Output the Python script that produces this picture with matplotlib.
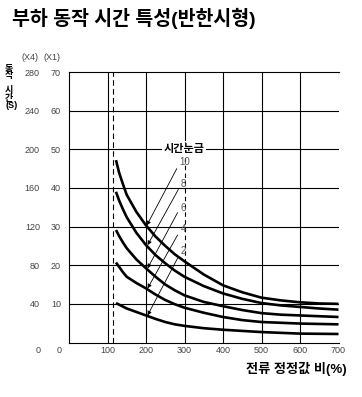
import numpy as np
import matplotlib
matplotlib.use("Agg")
import matplotlib.pyplot as plt

plt.rcParams['font.family'] = ['Liberation Sans', 'Noto Sans CJK KR', 'DejaVu Sans']

# 전류 정정값 비 (%)
ratio = [122, 130, 140, 150, 175, 200, 225, 250, 275, 300, 350, 400, 450, 500, 550, 600, 650, 700]
# 시간눈금별 동작 시간 (X1 눈금, s)
dial = [10, 8, 6, 4, 2]
t10 = [47.2, 44.0, 41.0, 38.2, 33.8, 30.3, 27.4, 25.0, 22.8, 21.0, 17.6, 14.8, 13.0, 11.6, 10.9, 10.4, 10.1, 10.0]
t8 = [39.0, 36.8, 34.5, 32.4, 28.4, 25.2, 22.6, 20.5, 18.6, 17.0, 14.6, 12.7, 11.3, 10.2, 9.6, 9.2, 8.8, 8.5]
t6 = [29.1, 27.6, 25.9, 24.4, 21.5, 19.2, 17.0, 15.0, 13.5, 12.2, 10.5, 9.4, 8.4, 7.6, 7.2, 7.0, 6.8, 6.6]
t4 = [20.7, 19.6, 18.2, 17.0, 15.4, 14.0, 12.4, 11.0, 9.9, 9.0, 7.7, 6.6, 5.8, 5.3, 5.1, 4.9, 4.8, 4.7]
t2 = [10.2, 9.8, 9.3, 8.8, 7.9, 7.0, 6.1, 5.3, 4.7, 4.3, 3.7, 3.3, 3.0, 2.7, 2.5, 2.3, 2.25, 2.2]
curves = [t10, t8, t6, t4, t2]

# 눈금 숫자 위치와 화살표 끝
label_x = [300, 297, 297, 297, 297]
label_y = [46.6, 41.0, 34.8, 29.4, 23.6]
arrow_from = [(280, 45.0), (284, 39.6), (282, 33.6), (282, 27.8), (282, 21.8)]
arrow_to = [(202, 30.3), (204, 25.2), (204, 19.2), (204, 14.0), (204, 7.0)]

yticks_x1 = [10, 20, 30, 40, 50, 60, 70]
xticks = [100, 200, 300, 400, 500, 600, 700]

fig = plt.figure(figsize=(3.62, 3.97), dpi=100)
ax = fig.add_axes([69 / 362, 54.5 / 397, 269.5 / 362, 270.5 / 397])
ax.set_xlim(0, 700)
ax.set_ylim(0, 70)

# 격자
for y in yticks_x1[:-1]:
    ax.axhline(y, color='black', lw=0.8, zorder=1)
for x in [100, 200, 400, 500, 600]:
    ax.axvline(x, color='black', lw=0.8, zorder=1)
ax.plot([300, 300], [0, 20.5], color='black', lw=0.8, zorder=1)
ax.plot([300, 300], [20.5, 52.5], color='black', lw=0.8, dashes=(4, 3), zorder=1)
ax.plot([300, 300], [52.5, 70], color='black', lw=0.8, zorder=1)
ax.plot([700, 700], [68.5, 70], color='black', lw=0.8, zorder=1)
ax.axvline(115, color='black', lw=0.8, dashes=(5, 3), zorder=1)

for c in curves:
    ax.plot(ratio, c, color='black', lw=1.9, solid_capstyle='butt',
            solid_joinstyle='round', zorder=3)

for d, lx, ly, a0, a1 in zip(dial, label_x, label_y, arrow_from, arrow_to):
    ax.text(lx, ly, str(d), ha='center', va='center', fontsize=7, color='#555555', zorder=4)
    ax.annotate('', xy=a1, xytext=a0,
                arrowprops=dict(arrowstyle='-|>', lw=0.6, color='black',
                                mutation_scale=6, shrinkA=0, shrinkB=0), zorder=4)

ax.text(298, 50, '시간눈금', ha='center', va='center', fontsize=8, fontweight='bold',
        bbox=dict(facecolor='white', edgecolor='none', pad=1), zorder=4)

ax.spines['right'].set_visible(False)
for s in ['left', 'top', 'bottom']:
    ax.spines[s].set_linewidth(0.8)

ax.set_xticks(xticks)
ax.set_xticklabels([str(v) for v in xticks])
ax.set_yticks(yticks_x1)
ax.set_yticklabels([str(v) for v in yticks_x1])
ax.tick_params(axis='x', length=0, pad=2.5, labelsize=6.5, labelcolor='#444444')
ax.tick_params(axis='y', length=0, pad=5.8, labelsize=6.5, labelcolor='#444444')

sec = ax.secondary_yaxis('left', functions=(lambda v: v * 4, lambda v: v / 4))
sec.set_yticks([v * 4 for v in yticks_x1])
sec.tick_params(length=0, pad=21, labelsize=6.5, labelcolor='#444444')
sec.spines['left'].set_visible(False)

fig.text(62 / 362, 1 - 350.5 / 397, '0', ha='right', va='center', fontsize=6.5, color='#444444')
fig.text(41 / 362, 1 - 350.5 / 397, '0', ha='right', va='center', fontsize=6.5, color='#444444')
fig.text(22 / 362, 1 - 57 / 397, '(X4)', ha='left', va='center', fontsize=6.5, color='#444444')
fig.text(44 / 362, 1 - 57 / 397, '(X1)', ha='left', va='center', fontsize=6.5, color='#444444')

fig.text(5 / 362, 1 - 72 / 397, '동\n작', ha='left', va='center', fontsize=6.5,
         fontweight='bold', linespacing=0.85)
fig.text(5 / 362, 1 - 98 / 397, '시\n간\n(S)', ha='left', va='center', fontsize=6.5,
         fontweight='bold', linespacing=0.85)

fig.text(12 / 362, 1 - 18 / 397, '부하 동작 시간 특성(반한시형)', ha='left', va='center',
         fontsize=14, fontweight='bold')
fig.text(347 / 362, 1 - 369 / 397, '전류 정정값 비(%)', ha='right', va='center',
         fontsize=9.5, fontweight='bold')

fig.savefig('out.png', dpi=100)
